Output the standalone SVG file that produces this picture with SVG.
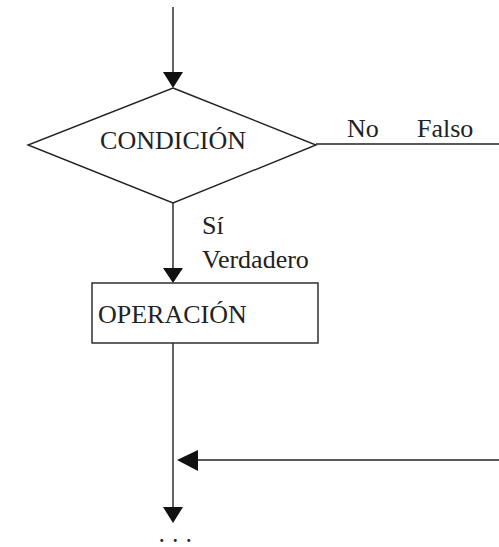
<svg xmlns="http://www.w3.org/2000/svg" width="499" height="547" viewBox="0 0 499 547">
<defs>
<style>
.ln{stroke:#222;stroke-width:1.4;fill:none}
.sh{stroke:#222;stroke-width:1.4;fill:#fff}
.t{font-family:"Liberation Serif","Times New Roman",serif;font-size:26px;fill:#222}
.d{font-family:"Liberation Serif","Times New Roman",serif;font-size:18px;font-weight:bold;fill:#222;letter-spacing:2.25px}
.ah{fill:#111}
</style>
</defs>
<g id="connectors">
<line class="ln" x1="173" y1="7" x2="173" y2="75"/>
<polygon class="ah" points="163,72 183,72 173,88"/>
<line class="ln" x1="316" y1="144" x2="499" y2="144"/>
<line class="ln" x1="173" y1="203" x2="173" y2="271"/>
<polygon class="ah" points="163,268 183,268 173,283"/>
<line class="ln" x1="173" y1="343" x2="173" y2="510"/>
<polygon class="ah" points="163,507 183,507 173,523"/>
<line class="ln" x1="195" y1="460" x2="499" y2="460"/>
<polygon class="ah" points="198,450 198,471 177,460"/>
<text class="t" x="347" y="137">No</text>
<text class="t" x="417" y="137">Falso</text>
<text class="t" x="202" y="234">Sí</text>
<text class="t" x="202" y="268">Verdadero</text>
</g>
<g id="condicion">
<polygon class="sh" points="173,88 316,145 173,203 28,145"/>
<text class="t" x="173" y="149" text-anchor="middle">CONDICIÓN</text>
</g>
<g id="operacion">
<rect class="sh" x="92" y="283" width="226" height="60"/>
<text class="t" x="98" y="323">OPERACIÓN</text>
</g>
<g id="continua">
<text class="d" x="159.5" y="542">. . .</text>
</g>
</svg>
